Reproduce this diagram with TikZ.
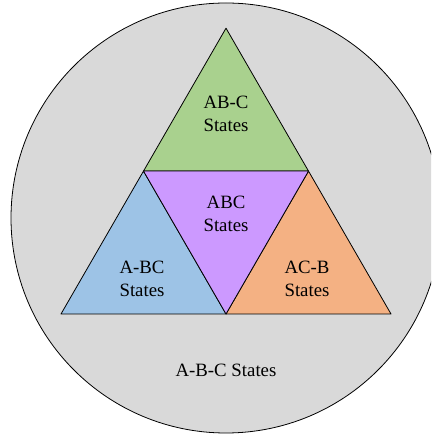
\documentclass[tikz,border=0pt]{standalone}
\usepackage{fontspec}
\setmainfont{Liberation Serif}
\usepackage{xcolor}
\usepackage{tikz}
\usetikzlibrary{calc}

\definecolor{abcgray}{HTML}{D9D9D9}
\definecolor{abgreen}{HTML}{A9D18E}
\definecolor{abcpurple}{HTML}{CC99FF}
\definecolor{bcblue}{HTML}{9DC3E6}
\definecolor{acorange}{HTML}{F4B183}

\begin{document}
\begin{tikzpicture}[x=1pt,y=1pt,line width=0.8pt,line join=round,
                    state part/.style={draw=black},
                    state label/.style={font=\fontsize{18.8}{23}\selectfont,align=center,inner sep=0pt}]
 \clip (0,0) rectangle (431,435);

%Outer circle
 \coordinate (Centre) at (226,217);
 \draw[fill=abcgray] (Centre) circle (215);

%Corners of the big triangle
 \coordinate (Top) at (226,406.8);
 \coordinate (BotLeft) at (61,121);
 \coordinate (BotRight) at (391,121);
 \coordinate (MidLeft) at ($(BotLeft)!0.5!(Top)$);
 \coordinate (MidRight) at ($(BotRight)!0.5!(Top)$);
 \coordinate (BotMid) at ($(BotLeft)!0.5!(BotRight)$);

%Four small triangles
 \draw[state part,fill=abgreen] (Top) -- (MidLeft) -- (MidRight) -- cycle;
 \draw[state part,fill=bcblue] (MidLeft) -- (BotLeft) -- (BotMid) -- cycle;
 \draw[state part,fill=acorange] (MidRight) -- (BotMid) -- (BotRight) -- cycle;
 \draw[state part,fill=abcpurple] (MidLeft) -- (MidRight) -- (BotMid) -- cycle;

%Labels
 \node[state label] (ABC_label) at (226,321.5) {AB-C\\States};
 \node[state label] (ABCin_label) at (226,221.5) {ABC\\States};
 \node[state label] (A_BC_label) at (142,156) {A-BC\\States};
 \node[state label] (AC_B_label) at (307,156) {AC-B\\States};
 \node[state label] (A_B_C_label) at (226,65) {A-B-C States};

\end{tikzpicture}
\end{document}
